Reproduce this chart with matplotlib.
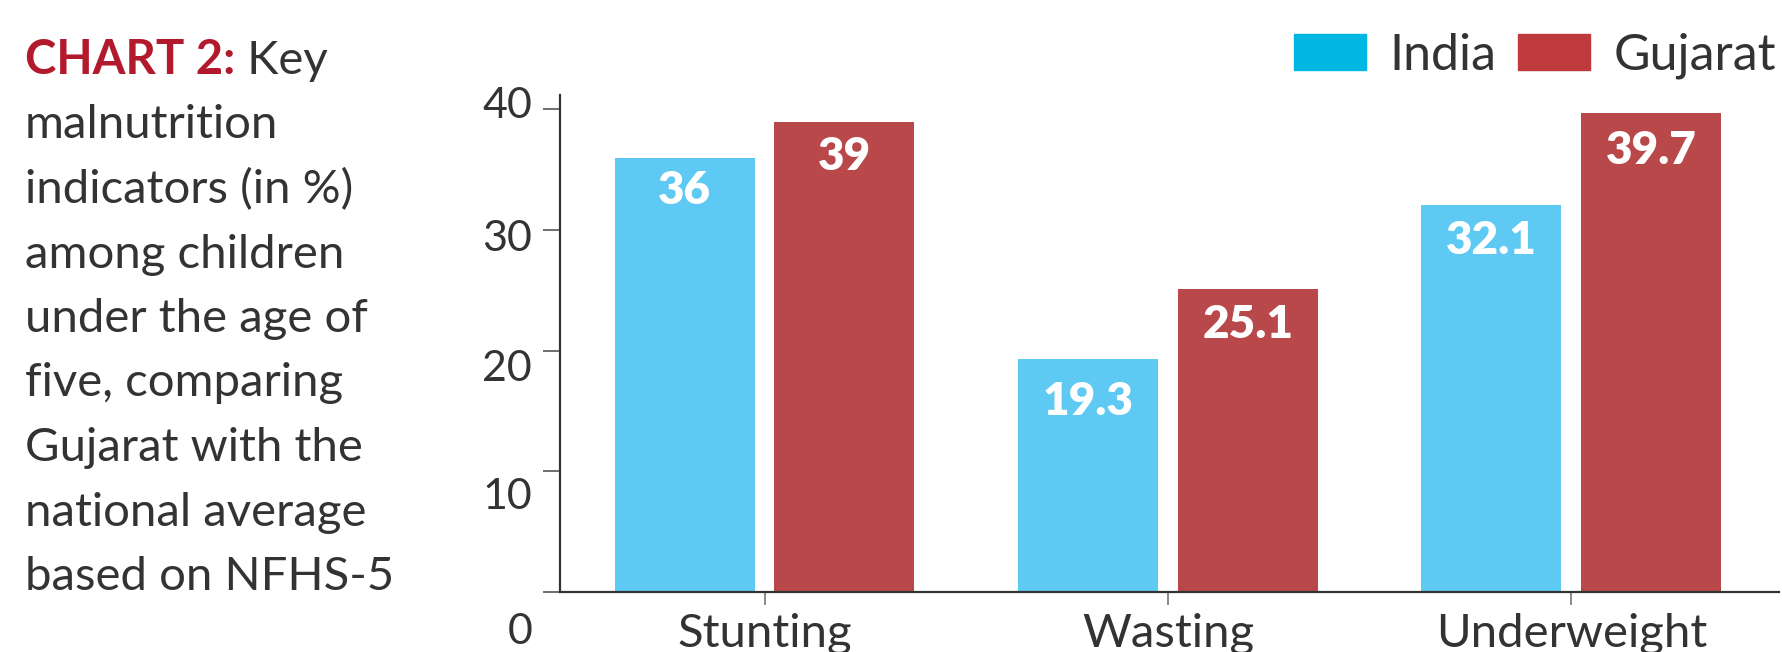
import numpy as np
import matplotlib
matplotlib.use("Agg")
import matplotlib.pyplot as plt
from matplotlib.transforms import ScaledTranslation

# data
categories = ["Stunting", "Wasting", "Underweight"]
india = [36, 19.3, 32.1]
gujarat = [39, 25.1, 39.7]
india_labels = ["36", "19.3", "32.1"]
gujarat_labels = ["39", "25.1", "39.7"]
y_ticks = [0, 10, 20, 30, 40]

caption_lines = [
    "malnutrition",
    "indicators (in %)",
    "among children",
    "under the age of",
    "five, comparing",
    "Gujarat with the",
    "national average",
    "based on NFHS-5",
]

INDIA_BAR = "#5ec9f2"
GUJ_BAR = "#b84849"
INDIA_KEY = "#00b7e4"
GUJ_KEY = "#bf3a3d"
TEXT = "#333333"
RED = "#b3192c"

plt.rcParams['font.family'] = ['Lato', 'DejaVu Sans']

W, H = 1783, 652
fig = plt.figure(figsize=(W / 100, H / 100), dpi=100)
fig.patch.set_facecolor("white")

# axes box in pixels: left 560, right ~1779, bottom 592, top 95
ax = fig.add_axes([560 / W, 1 - 592 / H, (1779 - 560) / W, (592 - 95) / H])

x = np.arange(len(categories))
bw = 0.347
off = 0.198
b1 = ax.bar(x - off, india, bw, color=INDIA_BAR, label="India", zorder=2)
b2 = ax.bar(x + off, gujarat, bw, color=GUJ_BAR, label="Gujarat", zorder=2)

# value labels sit a bit below each bar top (pixels)
drops_india = [33, 42, 36]
drops_guj = [35, 35, 37]
for bars, labs, drops in ((b1, india_labels, drops_india), (b2, gujarat_labels, drops_guj)):
    for rect, lab, d in zip(bars, labs, drops):
        ax.annotate(lab, (rect.get_x() + rect.get_width() / 2, rect.get_height()),
                    xytext=(0, -d * 0.72), textcoords="offset points",
                    ha="center", va="center", color="white",
                    fontsize=33, fontweight="heavy", zorder=3)

ax.set_xlim(-0.507, 2.515)
ax.set_ylim(0, 41.2)

for s in ("top", "right"):
    ax.spines[s].set_visible(False)
ax.spines["left"].set_color(TEXT)
ax.spines["bottom"].set_color(TEXT)
ax.spines["left"].set_linewidth(1.6)
ax.spines["bottom"].set_linewidth(1.6)

ax.set_yticks(y_ticks)
ax.set_yticklabels([str(v) for v in y_ticks])
ax.tick_params(axis="y", length=12, width=1.2, color="#555555", pad=8,
               labelsize=31, labelcolor=TEXT)
# tick labels sit a little off their ticks in the original
shifts_px = [36, 22, 15, 5, -7]
for lab, dy in zip(ax.get_yticklabels(), shifts_px):
    lab.set_transform(lab.get_transform() + ScaledTranslation(0, -dy / 100, fig.dpi_scale_trans))

ax.set_xticks(x)
ax.set_xticklabels(categories)
ax.tick_params(axis="x", length=9, width=1.2, color="#777777", pad=6,
               labelsize=34, labelcolor=TEXT)

# legend
fig.legend(handles=[b1.patches[0], b2.patches[0]], labels=["India", "Gujarat"],
           loc="center right", bbox_to_anchor=(1776 / W, 1 - 56 / H),
           ncol=2, frameon=False, fontsize=36, handlelength=1.44, handleheight=0.74,
           handletextpad=0.46, columnspacing=0.44, borderpad=0, borderaxespad=0,
           labelcolor=TEXT)
leg = fig.legends[0]
for h, c in zip(leg.legend_handles, (INDIA_KEY, GUJ_KEY)):
    h.set_color(c)

# caption on the left
CAP = 34
t1 = fig.text(25 / W, 1 - 74 / H, "CHART 2:", color=RED, fontsize=CAP,
              fontweight="bold", va="baseline", ha="left")
fig.canvas.draw()
bb = t1.get_window_extent()
fig.text(bb.x1 / W, 1 - 74 / H, " Key", color=TEXT, fontsize=CAP,
         va="baseline", ha="left")

for i, line in enumerate(caption_lines):
    fig.text(25 / W, 1 - (74 + 64.5 * (i + 1)) / H, line, color=TEXT,
             fontsize=CAP, va="baseline", ha="left")

fig.savefig("out.png", dpi=100)
